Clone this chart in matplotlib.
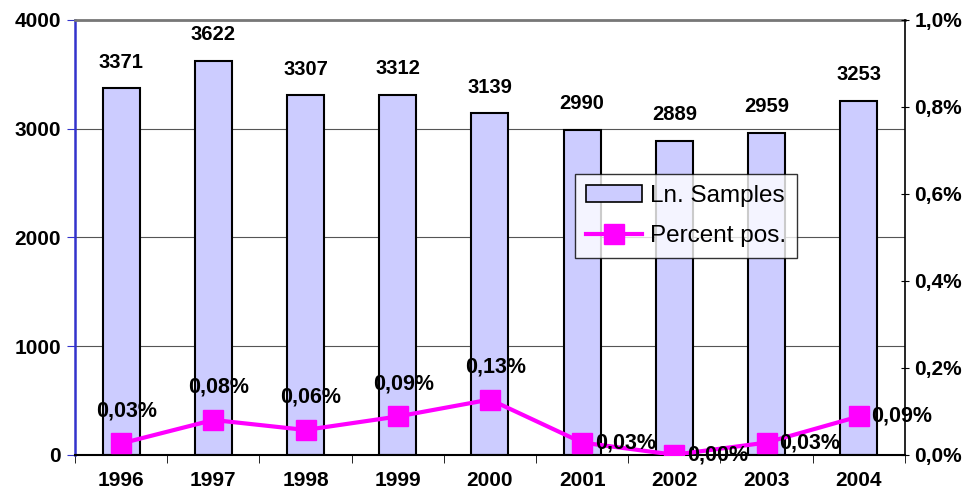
import matplotlib.pyplot as plt
import numpy as np
from matplotlib.lines import Line2D
from matplotlib.patches import Patch

years = ["1996", "1997", "1998", "1999", "2000", "2001", "2002", "2003", "2004"]
samples = [3371, 3622, 3307, 3312, 3139, 2990, 2889, 2959, 3253]
percent_pos = [0.026, 0.08, 0.057, 0.088, 0.127, 0.028, 0.0, 0.028, 0.088]
# label placement for the percent series: above the marker or to its right
pct_label_side = ["up", "up", "up", "up", "up", "right", "right", "right", "right"]

plt.rcParams['font.family'] = ['Liberation Sans', 'DejaVu Sans']

fig = plt.figure(figsize=(9.75, 4.97), dpi=100)
ax = fig.add_axes([0.077, 0.085, 0.851, 0.875])
ax2 = ax.twinx()

x = np.arange(len(years))
ax.bar(x, samples, width=0.4, color='#ccccff', edgecolor='black', linewidth=1.5, zorder=2)
for xi, v in zip(x, samples):
    ax.annotate(str(v), (xi, v), xytext=(0, 12), textcoords='offset points',
                ha='center', va='bottom', fontsize=14.5, fontweight='bold')

ax.set_xlim(-0.5, len(years) - 0.5)
ax.set_ylim(0, 4000)
ax.set_yticks([0, 1000, 2000, 3000, 4000])
ax.yaxis.grid(True, color='#555555', linewidth=0.8, zorder=0)
ax.set_axisbelow(True)
ax.set_xticks(x)
ax.set_xticklabels(years)
ax.set_xticks(np.arange(-0.5, len(years)), minor=True)
ax.tick_params(axis='x', which='major', length=0, pad=12, labelsize=15)
ax.tick_params(axis='x', which='minor', length=6, direction='out', color='black')
ax.tick_params(axis='y', length=6, direction='out', color='#3333cc', labelsize=15, pad=4)
for lbl in ax.get_xticklabels() + ax.get_yticklabels():
    lbl.set_fontweight('bold')

ax.spines['left'].set_color('#3333cc')
ax.spines['left'].set_linewidth(1.8)
ax.spines['top'].set_color('#777777')
ax.spines['top'].set_linewidth(2)
ax.spines['right'].set_visible(False)
ax.spines['bottom'].set_linewidth(1.5)

ax2.plot(x, percent_pos, color='#ff00ff', linewidth=3, marker='s', markersize=14, zorder=3)
ax2.set_ylim(0, 1.0)
ax2.set_yticks(np.arange(0, 1.01, 0.2))
ax2.set_yticklabels([f"{v:.1f}%".replace('.', ',') for v in np.arange(0, 1.01, 0.2)])
ax2.tick_params(axis='y', length=6, direction='inout', labelsize=15, pad=4)
for lbl in ax2.get_yticklabels():
    lbl.set_fontweight('bold')
for s in ['left', 'top', 'bottom']:
    ax2.spines[s].set_visible(False)
ax2.spines['right'].set_linewidth(1.2)

for xi, v, side in zip(x, percent_pos, pct_label_side):
    txt = f"{v:.2f}%".replace('.', ',')
    if side == "up":
        ax2.annotate(txt, (xi, v), xytext=(4, 16), textcoords='offset points',
                     ha='center', va='bottom', fontsize=15.5, fontweight='bold')
    else:
        ax2.annotate(txt, (xi, v), xytext=(9, 0), textcoords='offset points',
                     ha='left', va='center', fontsize=15.5, fontweight='bold')

handles = [Patch(facecolor='#ccccff', edgecolor='black', linewidth=1.2),
           Line2D([0], [0], color='#ff00ff', linewidth=3, marker='s', markersize=14)]
leg = ax2.legend(handles, ["Ln. Samples", "Percent pos."], loc='upper left',
                 bbox_to_anchor=(0.603, 0.645), fontsize=17.5, frameon=True, fancybox=False,
                 edgecolor='black', handlelength=2.3, borderpad=0.45, labelspacing=0.75,
                 handletextpad=0.3, borderaxespad=0)
leg.get_frame().set_linewidth(1.0)

fig.savefig("out.png", dpi=100)
